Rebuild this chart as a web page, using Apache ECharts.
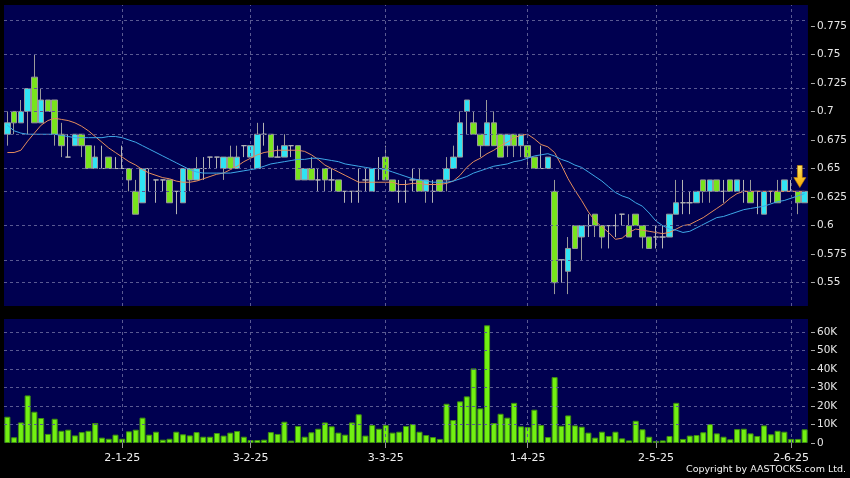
<!DOCTYPE html>
<html><head><meta charset="utf-8">
<script src="https://cdn.jsdelivr.net/npm/echarts@6/dist/echarts.min.js"></script>
<style>html,body{margin:0;padding:0;background:#000;}#c{width:850px;height:478px;}</style>
</head><body><div id="c"></div>
<script>
// ---- data ----
const dates = [
 '5-12-24','6-12-24','9-12-24','10-12-24','11-12-24','12-12-24','13-12-24','16-12-24','17-12-24','18-12-24','19-12-24','20-12-24','23-12-24','24-12-24','27-12-24','30-12-24','31-12-24',
 '2-1-25','3-1-25','6-1-25','7-1-25','8-1-25','9-1-25','10-1-25','13-1-25','14-1-25','15-1-25','16-1-25','17-1-25','20-1-25','21-1-25','22-1-25','23-1-25','24-1-25','27-1-25','28-1-25',
 '3-2-25','4-2-25','5-2-25','6-2-25','7-2-25','10-2-25','11-2-25','12-2-25','13-2-25','14-2-25','17-2-25','18-2-25','19-2-25','20-2-25','21-2-25','24-2-25','25-2-25','26-2-25','27-2-25','28-2-25',
 '3-3-25','4-3-25','5-3-25','6-3-25','7-3-25','10-3-25','11-3-25','12-3-25','13-3-25','14-3-25','17-3-25','18-3-25','19-3-25','20-3-25','21-3-25','24-3-25','25-3-25','26-3-25','27-3-25','28-3-25','31-3-25',
 '1-4-25','2-4-25','3-4-25','7-4-25','8-4-25','9-4-25','10-4-25','11-4-25','14-4-25','15-4-25','16-4-25','17-4-25','22-4-25','23-4-25','24-4-25','25-4-25','28-4-25','29-4-25','30-4-25',
 '2-5-25','6-5-25','7-5-25','8-5-25','9-5-25','12-5-25','13-5-25','14-5-25','15-5-25','16-5-25','19-5-25','20-5-25','21-5-25','22-5-25','23-5-25','26-5-25','27-5-25','28-5-25','29-5-25','30-5-25',
 '2-6-25','3-6-25','4-6-25'
];
const open = [
 0.68,0.70,0.69,0.70,0.73,0.69,0.71,0.71,0.68,0.66,
 0.67,0.68,0.67,0.65,0.65,0.66,0.65,0.65,0.65,0.63,
 0.62,0.65,0.64,0.64,0.64,0.63,0.62,0.65,0.64,0.65,
 0.66,0.66,0.65,0.66,0.65,0.67,0.66,0.65,0.68,0.68,
 0.66,0.66,0.67,0.67,0.64,0.65,0.64,0.65,0.64,0.64,
 0.63,0.63,0.63,0.64,0.63,0.65,0.66,0.64,0.63,0.63,
 0.64,0.64,0.63,0.63,0.64,0.64,0.65,0.66,0.70,0.69,
 0.68,0.67,0.69,0.68,0.67,0.68,0.67,0.67,0.66,0.65,
 0.65,0.63,0.57,0.56,0.60,0.59,0.60,0.61,0.60,0.60,
 0.60,0.61,0.60,0.61,0.60,0.59,0.59,0.59,0.59,0.61,
 0.62,0.62,0.62,0.64,0.63,0.64,0.63,0.64,0.63,0.63,
 0.63,0.63,0.61,0.63,0.63,0.63,0.63,0.63,0.62
];
const close = [
 0.69,0.69,0.70,0.72,0.69,0.71,0.70,0.68,0.67,0.66,
 0.68,0.67,0.65,0.66,0.65,0.65,0.65,0.65,0.64,0.61,
 0.65,0.65,0.64,0.64,0.62,0.63,0.65,0.64,0.65,0.65,
 0.66,0.66,0.66,0.65,0.66,0.67,0.67,0.68,0.68,0.66,
 0.66,0.67,0.67,0.64,0.65,0.64,0.64,0.64,0.64,0.63,
 0.63,0.63,0.63,0.64,0.65,0.65,0.64,0.63,0.63,0.63,
 0.64,0.63,0.64,0.63,0.63,0.65,0.66,0.69,0.71,0.68,
 0.67,0.69,0.67,0.66,0.68,0.67,0.68,0.66,0.65,0.65,
 0.66,0.55,0.57,0.58,0.58,0.60,0.60,0.60,0.59,0.60,
 0.60,0.61,0.59,0.60,0.59,0.58,0.59,0.59,0.61,0.62,
 0.62,0.62,0.63,0.63,0.64,0.63,0.63,0.63,0.64,0.63,
 0.62,0.63,0.63,0.63,0.62,0.64,0.63,0.62,0.63
];
const low = [
 0.67,0.68,0.69,0.68,0.69,0.69,0.70,0.67,0.66,0.66,
 0.67,0.66,0.65,0.65,0.65,0.65,0.65,0.65,0.63,0.61,
 0.62,0.63,0.62,0.63,0.62,0.61,0.62,0.63,0.64,0.64,
 0.65,0.65,0.64,0.65,0.65,0.66,0.66,0.65,0.67,0.66,
 0.66,0.66,0.66,0.64,0.64,0.64,0.63,0.63,0.63,0.63,
 0.62,0.62,0.62,0.63,0.63,0.64,0.64,0.63,0.62,0.62,
 0.63,0.63,0.62,0.62,0.63,0.63,0.65,0.66,0.68,0.68,
 0.66,0.67,0.67,0.66,0.66,0.66,0.66,0.65,0.65,0.65,
 0.65,0.54,0.55,0.54,0.58,0.57,0.59,0.59,0.58,0.58,
 0.59,0.60,0.59,0.60,0.58,0.58,0.58,0.58,0.59,0.61,
 0.61,0.61,0.62,0.62,0.62,0.63,0.62,0.63,0.63,0.62,
 0.62,0.61,0.61,0.62,0.62,0.63,0.63,0.61,0.62
];
const high = [
 0.70,0.70,0.71,0.72,0.75,0.72,0.71,0.71,0.69,0.68,
 0.68,0.68,0.67,0.67,0.67,0.66,0.66,0.67,0.65,0.64,
 0.65,0.65,0.64,0.64,0.64,0.63,0.65,0.65,0.66,0.66,
 0.66,0.66,0.66,0.67,0.67,0.67,0.67,0.69,0.69,0.68,
 0.67,0.68,0.67,0.67,0.65,0.66,0.65,0.65,0.65,0.64,
 0.63,0.63,0.65,0.65,0.65,0.66,0.67,0.64,0.64,0.64,
 0.65,0.65,0.64,0.64,0.64,0.66,0.67,0.70,0.71,0.70,
 0.68,0.71,0.70,0.68,0.68,0.68,0.68,0.67,0.66,0.67,
 0.66,0.64,0.57,0.59,0.60,0.60,0.61,0.61,0.60,0.60,
 0.61,0.61,0.61,0.61,0.60,0.59,0.60,0.60,0.61,0.64,
 0.64,0.63,0.63,0.64,0.64,0.64,0.64,0.64,0.64,0.64,
 0.64,0.63,0.63,0.63,0.64,0.64,0.64,0.63,0.63
];
// moving-average lines as drawn (orange = short, blue = long)
const maShort = [
 0.664,0.664,0.666,0.674,0.681,0.688,0.692,0.694,0.693,0.692,
 0.690,0.687,0.683,0.678,0.673,0.668,0.664,0.660,0.656,0.653,
 0.649,0.646,0.644,0.642,0.641,0.639,0.638,0.638,0.639,0.641,
 0.643,0.645,0.646,0.649,0.652,0.656,0.659,0.662,0.664,0.665,
 0.666,0.666,0.666,0.666,0.665,0.662,0.658,0.653,0.650,0.647,
 0.644,0.641,0.638,0.638,0.638,0.638,0.638,0.638,0.636,0.636,
 0.637,0.637,0.636,0.636,0.636,0.637,0.639,0.644,0.651,0.656,
 0.659,0.663,0.666,0.670,0.673,0.677,0.679,0.680,0.676,0.671,
 0.669,0.664,0.653,0.641,0.631,0.622,0.612,0.604,0.599,0.594,
 0.588,0.589,0.594,0.597,0.596,0.595,0.594,0.593,0.594,0.597,
 0.600,0.601,0.604,0.607,0.611,0.615,0.619,0.624,0.628,0.630,
 0.630,0.630,0.630,0.630,0.630,0.630,0.630,0.630,0.630
];
const maLong = [
 0.688,0.683,0.681,0.680,0.680,0.680,0.680,0.680,0.679,0.678,
 0.677,0.677,0.677,0.677,0.677,0.678,0.678,0.677,0.675,0.673,
 0.670,0.667,0.664,0.661,0.658,0.655,0.652,0.649,0.647,0.646,
 0.646,0.646,0.646,0.646,0.647,0.648,0.649,0.650,0.652,0.654,
 0.655,0.656,0.657,0.658,0.658,0.659,0.659,0.658,0.657,0.656,
 0.654,0.653,0.652,0.651,0.650,0.650,0.649,0.647,0.645,0.643,
 0.641,0.640,0.639,0.638,0.638,0.638,0.639,0.641,0.643,0.646,
 0.648,0.650,0.652,0.653,0.654,0.656,0.657,0.659,0.661,0.662,
 0.663,0.661,0.658,0.656,0.653,0.651,0.647,0.643,0.639,0.634,
 0.629,0.626,0.624,0.620,0.617,0.611,0.604,0.600,0.597,0.596,
 0.594,0.595,0.598,0.601,0.604,0.607,0.608,0.610,0.612,0.614,
 0.615,0.616,0.617,0.619,0.621,0.622,0.624,0.626,0.628
];
const volume = [
 14200,3100,11100,25700,16900,13500,4900,13100,6600,7200,
 4100,5900,6600,10800,2900,2300,4500,2300,6300,7200,
 13700,4500,6100,1800,2300,6100,4700,4100,5900,3400,
 3400,5400,4000,5600,6500,3400,1600,1600,1800,5900,
 4900,11500,1300,9200,3400,5800,7700,11100,9000,5600,
 4500,11100,15500,4000,9700,7700,9700,5600,6100,9200,
 10200,6100,4300,3200,2200,21200,12400,22500,25200,40300,
 18700,63600,10800,15800,13700,21700,9000,8600,18000,9700,
 3200,35600,9300,14900,9500,8800,5600,2900,6100,3800,
 6100,2500,1400,12000,7400,3400,1100,1400,3800,21700,
 2200,4000,4300,5800,10200,5200,3400,2000,7500,7700,
 5200,3800,9500,4700,6600,6100,2200,2200,7400
];
const xTickLabels = ['2-1-25','3-2-25','3-3-25','1-4-25','2-5-25','2-6-25'];
const priceTicks = [0.55,0.575,0.6,0.625,0.65,0.675,0.7,0.725,0.75,0.775];
const volTicks = [0,10000,20000,30000,40000,50000,60000];
const arrowAt = {date:'3-6-25', price:0.643};

// ---- chart ----
const candleData = dates.map((d,i)=>[open[i],close[i],low[i],high[i]]);
const tickIdx = dates.map((d,i)=>xTickLabels.indexOf(d)>=0?i:-1).filter(i=>i>=0);
const isTick = (i)=>tickIdx.indexOf(i)>=0;
const gridColor = '#5a5a92';
const labelStyle = {color:'#e6e6e6', fontSize:10.5, fontFamily:'DejaVu Sans'};
const chart = echarts.init(document.getElementById('c'));
const gridLineSeries = (xi, yi, ys)=>({
  type:'line', xAxisIndex:xi, yAxisIndex:yi, data:[], z:1, silent:true,
  markLine:{silent:true, symbol:['none','none'], label:{show:false},
    lineStyle:{color:gridColor, type:[3,3], width:1},
    emphasis:{disabled:true},
    data:[...ys.map(v=>({yAxis:v})), ...tickIdx.map(i=>({xAxis:dates[i]}))]}
});
chart.setOption({
  backgroundColor:'#000',
  animation:false,
  grid:[
    {left:4, right:42, top:5, height:301, show:true, backgroundColor:'#000050', borderWidth:0},
    {left:4, right:42, top:319, height:124, show:true, backgroundColor:'#000050', borderWidth:0}
  ],
  xAxis:[
    {type:'category', gridIndex:0, data:dates, boundaryGap:true,
     axisLine:{show:false}, axisTick:{show:false}, axisLabel:{show:false}, splitLine:{show:false}},
    {type:'category', gridIndex:1, data:dates, boundaryGap:true,
     axisLine:{show:false},
     axisTick:{show:true, alignWithLabel:true, interval:(i)=>isTick(i), length:5, lineStyle:{color:'#999'}},
     axisLabel:{interval:(i)=>isTick(i), color:'#eeeeee', fontSize:11, fontFamily:'DejaVu Sans', margin:10},
     splitLine:{show:false}}
  ],
  yAxis:[
    {type:'value', gridIndex:0, position:'right', offset:3, min:0.5296, max:0.7932,
     axisLine:{show:false},
     axisTick:{show:true, customValues:priceTicks, length:4, lineStyle:{color:'#aaa'}},
     axisLabel:Object.assign({customValues:priceTicks, margin:6, formatter:(v)=>String(+(+v).toFixed(3))}, labelStyle),
     splitLine:{show:false}},
    {type:'value', gridIndex:1, position:'right', offset:3, min:0, max:67000,
     axisLine:{show:false},
     axisTick:{show:true, customValues:volTicks, length:4, lineStyle:{color:'#aaa'}},
     axisLabel:Object.assign({customValues:volTicks, margin:6, formatter:(v)=>v===0?'0':(v/1000)+'K'}, labelStyle),
     splitLine:{show:false}}
  ],
  series:[
    gridLineSeries(0,0,priceTicks),
    gridLineSeries(1,1,volTicks.filter(v=>v>0)),
    {type:'candlestick', name:'price', xAxisIndex:0, yAxisIndex:0, data:candleData, barWidth:6, z:3,
     itemStyle:{color:'#30e4f4', color0:'#78e41c', borderColor:'#9a9a9a', borderColor0:'#9a9a9a', borderColorDoji:'#b4b4b4', borderWidth:1},
     markPoint:{silent:true, data:[{coord:[arrowAt.date, arrowAt.price],
        symbol:'path://M3,0L7,0L7,11L10,11L5,20L0,11L3,11Z', symbolSize:[12,22], symbolOffset:[2,0],
        itemStyle:{color:new echarts.graphic.LinearGradient(0,0,0,1,[{offset:0,color:'#ffe860'},{offset:1,color:'#f2a600'}]), borderColor:'#c88400', borderWidth:0.6},
        label:{show:false}}]}},
    {type:'line', name:'MA short', xAxisIndex:0, yAxisIndex:0, data:maShort, showSymbol:false, z:4,
     lineStyle:{color:'#e48c5c', width:1}},
    {type:'line', name:'MA long', xAxisIndex:0, yAxisIndex:0, data:maLong, showSymbol:false, z:4,
     lineStyle:{color:'#3ea8e8', width:1}},
    {type:'bar', name:'volume', xAxisIndex:1, yAxisIndex:1, data:volume, barWidth:6, z:3,
     itemStyle:{color:'#72f012', borderColor:'#3f8f10', borderWidth:1}}
  ],
  graphic:[
    {type:'text', right:4, bottom:3, style:{text:'Copyright by AASTOCKS.com Ltd.', fill:'#f2f2f2', font:'9.5px "DejaVu Sans"'}}
  ]
});
</script>
</body></html>
